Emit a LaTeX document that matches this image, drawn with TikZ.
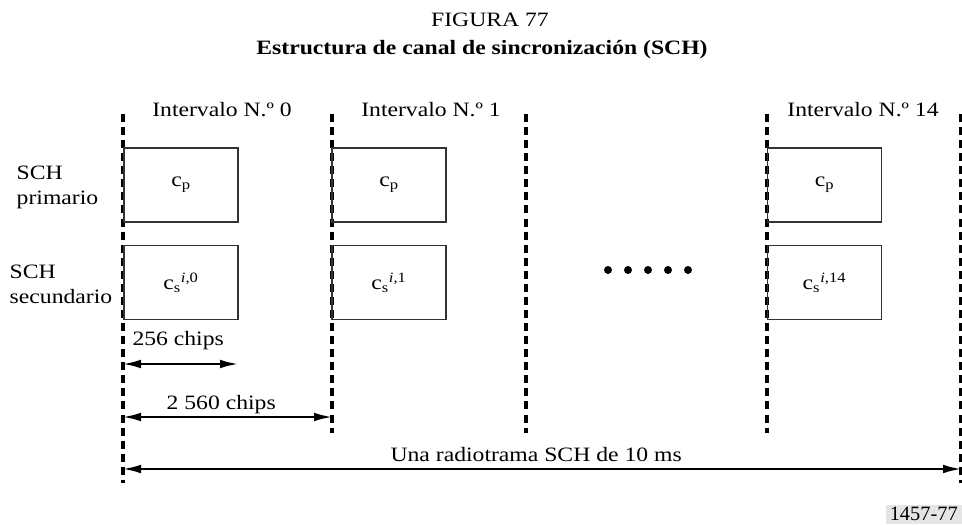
\documentclass[tikz,border=0pt]{standalone}
\usepackage{fontspec}
\setmainfont{Liberation Serif}[FakeStretch=1.16]
\newfontfamily\plainserif{Liberation Serif}
\usetikzlibrary{positioning, calc, arrows.meta}

\tikzset{
    slotline/.style={line width=2.4pt, dash pattern=on 6pt off 3.8pt},
    chanbox/.style={draw=black!80, line width=1.3pt, minimum width=85.5pt, minimum height=55.5pt, inner sep=0pt},
    spanarrow/.style={{Latex[length=13.5pt,width=6.5pt]}-{Latex[length=13.5pt,width=6.5pt]}, line width=1.5pt},
}

\begin{document}
\begin{tikzpicture}[x=0.75pt, y=-0.75pt, font=\fontsize{15.3}{18.8}\selectfont]
    \useasboundingbox (0,0) rectangle (962,524);

    \node (fig) at (490,20) {FIGURA 77};
    \node[font=\fontsize{15.3}{18.8}\selectfont\bfseries] (title) at (482,50) {Estructura de canal de sincronización (SCH)};

    % slot boundaries
    \coordinate (top0) at (123,114);   \coordinate (bot0) at (123,483);
    \coordinate (top1) at (332,114);   \coordinate (bot1) at (332,433);
    \coordinate (top2) at (526,114);   \coordinate (bot2) at (526,433);
    \coordinate (top14) at (767,114);  \coordinate (bot14) at (767,433);
    \coordinate (topend) at (961,114); \coordinate (botend) at (961,483);

    \draw[slotline] (top0) -- (bot0);
    \draw[slotline] (top1) -- (bot1);
    \draw[slotline] (top2) -- (bot2);
    \draw[slotline] (top14) -- (bot14);
    \draw[slotline] (topend) -- (botend);

    \node (int0) at (222,110) {Intervalo N.º 0};
    \node (int1) at (431,110) {Intervalo N.º 1};
    \node (int14) at (863,110) {Intervalo N.º 14};

    % row labels
    \node[align=left, anchor=west] (prim) at (12,187) {SCH\\primario};
    \node[align=left, anchor=west] (sec) at (5,284) {SCH\\secundario};

    % channel boxes
    \node[chanbox] (p0) at (181,185) {c\textsubscript{p}};
    \node[chanbox] (s0) at (181,282.5) {c\textsubscript{s}\textsuperscript{\textit{i},0}};
    \node[chanbox] (p1) at (389,185) {c\textsubscript{p}};
    \node[chanbox] (s1) at (389,282.5) {c\textsubscript{s}\textsuperscript{\textit{i},1}};
    \node[chanbox] (p14) at (824.5,185) {c\textsubscript{p}};
    \node[chanbox] (s14) at (824.5,282.5) {c\textsubscript{s}\textsuperscript{\textit{i},14}};

    \foreach \dx in {608,628,648,668,688}
        \fill (\dx,270) circle (3pt);

    % chip spans
    \coordinate (chipl) at (123,364);  \coordinate (chipr) at (238,364);
    \coordinate (slotl) at (123,417);  \coordinate (slotr) at (332,417);
    \coordinate (framel) at (123,469); \coordinate (framer) at (961,469);

    \draw[spanarrow] (chipl) -- node[anchor=base, yshift=14pt, pos=0.48] (lchip) {256 chips} (chipr);
    \draw[spanarrow] (slotl) -- node[anchor=base, yshift=6pt, pos=0.47] (lslot) {2 560 chips} (slotr);
    \draw[spanarrow] (framel) -- node[anchor=base, yshift=5.5pt, pos=0.493] (lframe) {Una radiotrama SCH de 10 ms} (framer);

    \node[fill=black!10, inner xsep=3pt, inner ysep=2pt, anchor=south east, font=\plainserif\fontsize{15.3}{18}\selectfont] (ref) at (962,524) {1457-77};

\end{tikzpicture}
\end{document}
